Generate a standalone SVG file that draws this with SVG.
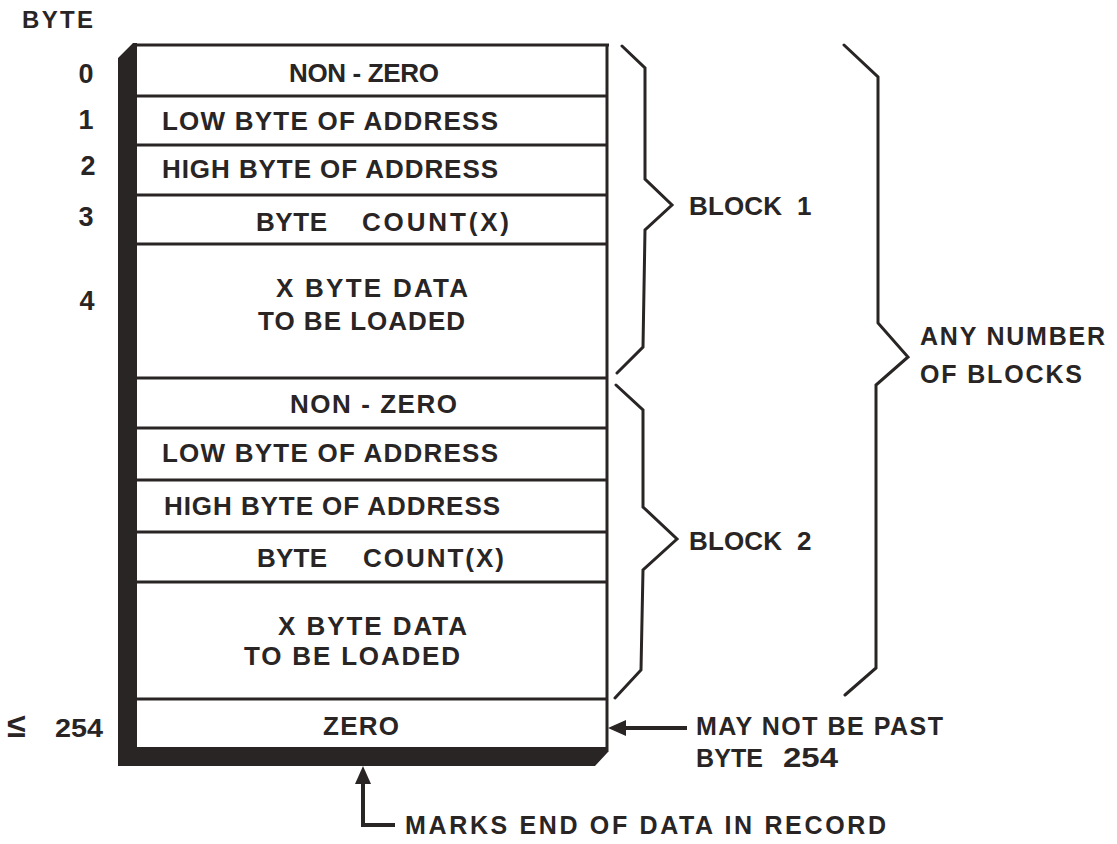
<svg xmlns="http://www.w3.org/2000/svg" width="1117" height="844" viewBox="0 0 1117 844">
  <style>
    text { font-family: "Liberation Sans", Arial, sans-serif; font-weight: bold; fill: #2a2525; }
    .t { font-size: 26px; }
    .num { font-size: 27px; text-anchor: middle; }
    .lbl { font-size: 25px; }
    .div { stroke: #2a2525; stroke-width: 3; fill: none; }
    .brace { stroke: #2a2525; stroke-width: 3; fill: none; stroke-linejoin: miter; stroke-linecap: round; }
    .conn { stroke: #2a2525; stroke-width: 4; fill: none; }
  </style>
  <defs>
    <marker id="arrow" markerUnits="userSpaceOnUse" markerWidth="18" markerHeight="16" refX="6" refY="8" orient="auto" viewBox="0 0 18 16">
      <path d="M0,0 L18,8 L0,16 z" fill="#2a2525"/>
    </marker>
  </defs>
  <rect width="1117" height="844" fill="#ffffff"/>

  <g id="record-frame">
    <polygon points="133,43 137,43 137,747 607,747 608,752 595,766 118,766 118,58" fill="#2a2525"/>
    <line class="div" x1="133" y1="45" x2="609" y2="45"/>
    <line class="div" x1="607" y1="44" x2="607" y2="752"/>
  </g>

  <g id="byte-labels">
    <text x="22" y="28" font-size="24" textLength="71" lengthAdjust="spacing">BYTE</text>
    <text class="num" x="86" y="83">0</text>
    <text class="num" x="86" y="129">1</text>
    <text class="num" x="88" y="175">2</text>
    <text class="num" x="86" y="226">3</text>
    <text class="num" x="87" y="310">4</text>
    <text y="737"><tspan x="7" font-size="34">≤</tspan><tspan x="55" font-size="26" textLength="48" lengthAdjust="spacingAndGlyphs">254</tspan></text>
  </g>

  <g id="block1-nonzero">
    <text class="t" x="289" y="82" textLength="150" lengthAdjust="spacing">NON - ZERO</text>
  </g>
  <g id="block1-low">
    <line class="div" x1="135" y1="96" x2="607" y2="96"/>
    <text class="t" x="162" y="130" textLength="336" lengthAdjust="spacing">LOW  BYTE  OF ADDRESS</text>
  </g>
  <g id="block1-high">
    <line class="div" x1="135" y1="145" x2="607" y2="145"/>
    <text class="t" x="162" y="178" textLength="336" lengthAdjust="spacing">HIGH BYTE OF ADDRESS</text>
  </g>
  <g id="block1-count">
    <line class="div" x1="135" y1="195" x2="607" y2="195"/>
    <text class="t" y="231"><tspan x="256" textLength="71" lengthAdjust="spacing">BYTE</tspan><tspan x="362" textLength="147" lengthAdjust="spacing">COUNT(X)</tspan></text>
  </g>
  <g id="block1-data">
    <line class="div" x1="135" y1="244" x2="607" y2="244"/>
    <text class="t" x="276" y="297" textLength="192" lengthAdjust="spacing">X  BYTE DATA</text>
    <text class="t" x="258" y="330" textLength="207" lengthAdjust="spacing">TO BE LOADED</text>
  </g>

  <g id="block2-nonzero">
    <line class="div" x1="135" y1="378" x2="607" y2="378"/>
    <text class="t" x="290" y="413" textLength="167" lengthAdjust="spacing">NON - ZERO</text>
  </g>
  <g id="block2-low">
    <line class="div" x1="135" y1="428" x2="607" y2="428"/>
    <text class="t" x="162" y="462" textLength="336" lengthAdjust="spacing">LOW  BYTE  OF ADDRESS</text>
  </g>
  <g id="block2-high">
    <line class="div" x1="135" y1="480" x2="607" y2="480"/>
    <text class="t" x="164" y="515" textLength="336" lengthAdjust="spacing">HIGH BYTE OF ADDRESS</text>
  </g>
  <g id="block2-count">
    <line class="div" x1="135" y1="532" x2="607" y2="532"/>
    <text class="t" y="567"><tspan x="257" textLength="70" lengthAdjust="spacing">BYTE</tspan><tspan x="363" textLength="141" lengthAdjust="spacing">COUNT(X)</tspan></text>
  </g>
  <g id="block2-data">
    <line class="div" x1="135" y1="582" x2="607" y2="582"/>
    <text class="t" x="278" y="635" textLength="189" lengthAdjust="spacing">X  BYTE DATA</text>
    <text class="t" x="244" y="665" textLength="216" lengthAdjust="spacing">TO BE LOADED</text>
  </g>
  <g id="zero-row">
    <line class="div" x1="135" y1="699" x2="607" y2="699"/>
    <text class="t" x="323" y="735" textLength="76" lengthAdjust="spacing">ZERO</text>
  </g>

  <g id="connectors">
    <polyline class="brace" points="622,46 645,68 645,179 672,205 645,230 643,347 617,373"/>
    <polyline class="brace" points="616,385 643,410 643,507 677,539 643,570 641,670 615,698"/>
    <polyline class="brace" points="844,45 878,77 878,323 908,357 876,385 876,668 845,695"/>
    <line class="conn" x1="687" y1="728" x2="620" y2="728" marker-end="url(#arrow)"/>
    <polyline class="conn" points="395,825 363,825 363,778" marker-end="url(#arrow)"/>
  </g>

  <g id="block1-label">
    <text class="t" y="215"><tspan x="689" textLength="93" lengthAdjust="spacing">BLOCK</tspan><tspan x="797">1</tspan></text>
  </g>
  <g id="block2-label">
    <text class="t" y="550"><tspan x="689" textLength="93" lengthAdjust="spacing">BLOCK</tspan><tspan x="797">2</tspan></text>
  </g>
  <g id="any-number-label">
    <text class="lbl" x="920" y="345" textLength="185" lengthAdjust="spacing">ANY  NUMBER</text>
    <text class="lbl" x="920" y="383" textLength="162" lengthAdjust="spacing">OF  BLOCKS</text>
  </g>
  <g id="may-not-label">
    <text class="lbl" x="696" y="735" textLength="247" lengthAdjust="spacing">MAY NOT BE PAST</text>
    <text class="lbl" y="767"><tspan x="696" textLength="67" lengthAdjust="spacing">BYTE</tspan><tspan x="783" font-size="27" textLength="55" lengthAdjust="spacingAndGlyphs">254</tspan></text>
  </g>
  <g id="marks-end-label">
    <text class="lbl" x="405" y="834" textLength="481" lengthAdjust="spacing">MARKS  END  OF  DATA  IN  RECORD</text>
  </g>
</svg>
